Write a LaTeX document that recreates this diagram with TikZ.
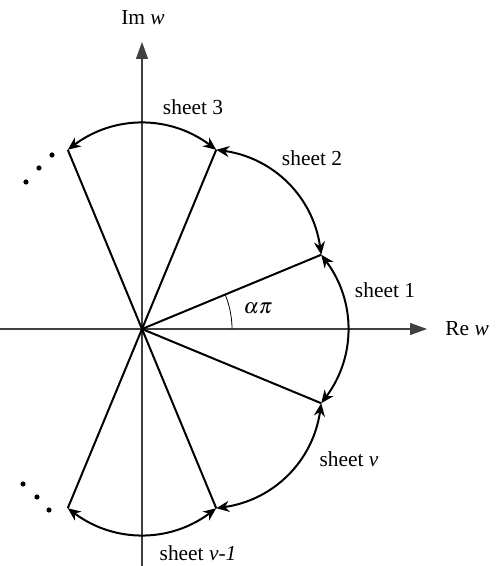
\documentclass[tikz,border=0pt]{standalone}
\usepackage{mathptmx}
\usepackage{fontspec}
\setmainfont{Liberation Serif}
\usepackage{tikz}
\usetikzlibrary{arrows.meta}

\begin{document}
\begin{tikzpicture}[
  x=0.5pt,y=0.5pt,
  axis/.style={draw=black!75,line width=0.65pt,-{Triangle[length=8.5pt,width=6pt]}},
  ray/.style={line width=1pt},
  sheetarc/.style={line width=1pt,{Stealth[length=6.5pt,width=5.5pt]}-{Stealth[length=6.5pt,width=5.5pt]}},
  lbl/.style={font=\fontsize{10.7}{12}\selectfont,inner sep=1pt},
  dot/.style={fill,circle,inner sep=0pt,minimum size=2.6pt}
]
\useasboundingbox (-142,-237) rectangle (357,329);
% axes
\coordinate (O) at (0,0);
\coordinate (xl) at (-142,0);
\coordinate (xr) at (285,0);
\coordinate (yb) at (0,-237);
\coordinate (yt) at (0,287);
\draw[axis] (xl) -- (xr);
\draw[axis] (yb) -- (yt);
\node[lbl,anchor=west] (re) at (301,0) {Re \textit{w}};
\node[lbl] (im) at (1,311) {Im \textit{w}};
% rays bounding the sheets
\foreach \a/\n in {22.5/r1,67.5/r2,112.5/r3,-22.5/r8,-67.5/r7,-112.5/r6}
  \coordinate (\n) at (\a:194);
\foreach \n in {r1,r2,r3,r6,r7,r8}
  \draw[ray] (O) -- (\n);
% angle
\draw[line width=0.4pt] (90,0) arc[start angle=0,end angle=22.5,radius=90];
\node[lbl] (ang) at (116,21) {$\alpha\pi$};
% sheets
\draw[sheetarc] (r8) to[bend right=37] (r1);
\draw[sheetarc] (r1) to[bend right=37] (r2);
\draw[sheetarc] (r2) to[bend right=37] (r3);
\draw[sheetarc] (r7) to[bend right=37] (r8);
\draw[sheetarc] (r6) to[bend right=37] (r7);
\node[lbl] (s1) at (243,39) {sheet 1};
\node[lbl] (s2) at (170,171) {sheet 2};
\node[lbl] (s3) at (51,222) {sheet 3};
\node[lbl] (sv) at (207,-130) {sheet \textit{v}};
\node[lbl] (svm) at (56,-224) {sheet \textit{v-1}};
% dots
\foreach \p in {(-90,174),(-103,161),(-116,147),(-119,-155),(-105,-168),(-93,-181)}
  \node[dot] at \p {};
\end{tikzpicture}
\end{document}
